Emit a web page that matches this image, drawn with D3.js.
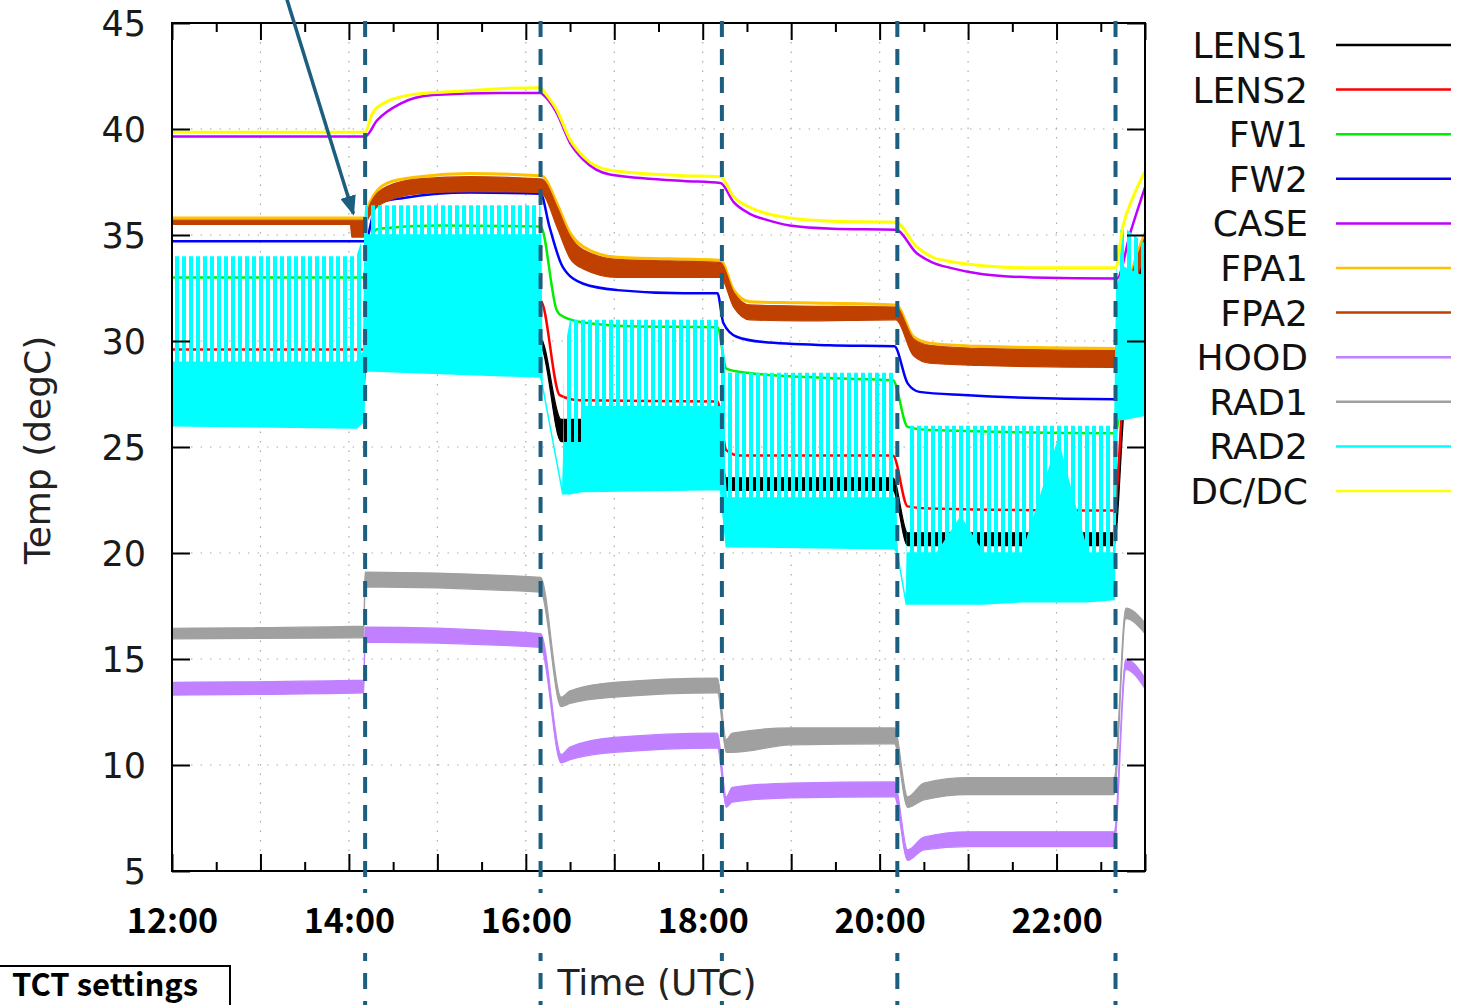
<!DOCTYPE html>
<html>
<head>
<meta charset="utf-8">
<style>
  html, body { margin: 0; padding: 0; background: #fff; }
  svg { display: block; }
</style>
</head>
<body>
<div id="chart"></div>
<script src="https://cdn.jsdelivr.net/npm/d3@7"></script>
<script>
const names  = ["LENS1", "LENS2", "FW1", "FW2", "CASE", "FPA1", "FPA2", "HOOD", "RAD1", "RAD2", "DC/DC"];
const colors = ["#000000", "#ff0000", "#00ee00", "#0000ff", "#c000ff", "#ffc000", "#c04000", "#c080ff", "#a0a0a0", "#00ffff", "#ffff00"];

const yTicks  = [5, 10, 15, 20, 25, 30, 35, 40, 45];
const xLabels = ["12:00", "14:00", "16:00", "18:00", "20:00", "22:00"];
const events  = ["14:11", "16:10", "18:13", "20:12", "22:40"];

// [time, degC]
const lens2 = [["12:00",29.6],["14:10",29.6],["14:30",31.3],["15:30",31.8],["16:10",31.9],
  ["16:23",27.45],["16:37",27.2],["18:10",27.15],["18:16",24.85],["18:25",24.6],["20:09",24.6],
  ["20:19",22.2],["20:34",22.1],["22:39",22.0],["22:46",28.5],["23:00",34.5]];
const fw1 = [["12:00",33.0],["14:10",33.0],["14:13",34.6],["14:20",35.3],["15:00",35.45],["16:10",35.4],
  ["16:21",31.45],["16:23",31.25],["16:37",30.9],["17:11",30.7],["18:10",30.65],
  ["18:16",28.7],["18:30",28.5],["19:26",28.25],["20:09",28.15],
  ["20:19",25.95],["20:34",25.8],["22:40",25.65],["22:47",30.0],["23:00",33.5]];
const fw2 = [["12:00",34.7],["14:11",34.7],["14:19",36.5],["14:37",36.75],["15:22",37.0],["16:10",36.95],
  ["16:16",35.4],["16:25",33.5],["16:39",32.7],["17:02",32.4],["17:47",32.25],["18:10",32.25],
  ["18:14",30.85],["18:23",30.2],["18:41",29.95],["19:26",29.8],["20:10",29.75],
  ["20:19",28.0],["20:27",27.6],["20:57",27.45],["22:40",27.25],["22:46",30.5],["23:00",34.3]];
const caseT = [["12:00",39.65],["14:11",39.65],["14:19",40.4],["14:35",41.2],["14:57",41.6],["15:42",41.7],["16:10",41.7],
  ["16:12",41.6],["16:21",40.75],["16:30",39.35],["16:39",38.55],["16:57",37.85],["17:47",37.55],["18:12",37.45],
  ["18:21",36.55],["18:32",36.0],["18:44",35.7],["18:59",35.45],["19:28",35.3],["20:11",35.25],
  ["20:25",34.15],["20:36",33.7],["20:48",33.45],["21:10",33.15],["21:44",33.0],["22:41",32.95],
  ["22:50",35.1],["23:00",37.25]];
const fpa1 = [["12:00",35.8],["14:11",35.8],["14:14",36.5],["14:26",37.45],["14:48",37.75],["15:22",37.9],["16:10",37.8],
  ["16:12",37.75],["16:21",36.5],["16:30",35.1],["16:39",34.45],["17:02",33.95],["18:12",33.8],
  ["18:21",32.4],["18:32",31.85],["19:06",31.8],["20:11",31.7],
  ["20:23",30.2],["20:34",29.9],["21:08",29.75],["22:40",29.65],["22:48",32.5],["23:00",35.1]];
const dcdc = [["12:00",39.85],["14:11",39.85],["14:16",40.75],["14:26",41.3],["14:46",41.65],["15:20",41.8],["15:42",41.9],["16:10",41.95],
  ["16:13",41.7],["16:21",40.9],["16:30",39.5],["16:39",38.7],["16:57",38.05],["17:47",37.8],["18:12",37.75],
  ["18:21",36.8],["18:32",36.3],["18:44",36.0],["18:59",35.8],["19:28",35.65],["20:11",35.6],
  ["20:25",34.45],["20:36",33.95],["20:48",33.75],["21:10",33.55],["21:44",33.45],["22:40",33.45],
  ["22:45",35.4],["22:52",36.8],["23:00",38.0]];

// [time, low, high] for the noisy channels
const lens1 = [["12:00",27.8,28.2],["14:10",27.8,28.2],["14:12",29.0,29.4],["14:30",29.5,30.0],["16:10",29.7,30.1],
  ["16:24",25.25,26.3],["16:38",25.25,26.3],["16:45",25.5,26.0],["18:10",25.5,26.0],
  ["18:16",22.95,23.55],["20:09",22.95,23.55],
  ["20:19",20.35,20.95],["22:39",20.35,20.95],["22:46",27.0,28.0],["23:00",33.5,34.3]];
const fpa2 = [["12:00",35.5,35.7],["14:01",35.5,35.7],["14:02",34.9,35.7],["14:10",34.9,35.7],["14:11",35.3,35.7],
  ["14:14",35.9,36.4],["14:26",36.6,37.3],["14:48",36.95,37.65],["15:22",37.05,37.75],["16:10",37.0,37.65],
  ["16:12",36.9,37.6],["16:21",35.4,36.35],["16:30",33.9,34.95],["16:39",33.4,34.3],["17:02",33.0,33.85],["18:12",33.0,33.7],
  ["18:21",31.6,32.3],["18:32",31.0,31.7],["19:06",30.95,31.65],["20:11",31.0,31.6],
  ["20:23",29.3,30.1],["20:34",28.95,29.8],["21:08",28.85,29.65],["22:40",28.75,29.55],
  ["22:48",31.6,32.4],["23:00",34.0,34.9]];
const hood = [["12:00",13.3,13.9],["14:10",13.4,14.0],["14:11",15.8,16.5],["16:10",15.55,16.2],
  ["16:24",10.1,10.5],["16:30",10.25,10.85],["17:00",10.6,11.3],["18:10",10.8,11.5],
  ["18:16",8.0,8.5],["18:20",8.25,8.95],["19:00",8.45,9.15],["20:10",8.5,9.2],
  ["20:19",5.5,6.0],["20:30",6.0,6.6],["21:00",6.15,6.85],["22:39",6.15,6.85],
  ["22:47",14.5,15.0],["23:00",13.6,14.1]];
const rad1 = [["12:00",15.95,16.45],["14:10",16.0,16.55],["14:11",18.4,19.1],["16:10",18.15,18.85],
  ["16:24",12.75,13.2],["16:30",12.9,13.5],["17:00",13.2,13.9],["18:10",13.4,14.1],
  ["18:16",10.6,11.2],["18:20",10.6,11.5],["19:00",10.95,11.75],["20:10",11.0,11.75],
  ["20:19",8.0,8.5],["20:30",8.35,9.15],["21:00",8.6,9.4],["22:39",8.6,9.4],
  ["22:47",16.9,17.4],["23:00",16.2,16.7]];

// RAD2: [time, bottom, top of dense part, top of spikes]
const rad2 = [["12:00",26.0,29.0,34.0],["14:05",25.9,29.0,34.0],["14:10",26.2,29.5,35.0],
  ["14:11",28.6,35.0,36.4],["16:10",28.3,35.0,36.4],
  ["16:11",28.0,28.0,28.0],["16:25",22.8,22.8,22.8],
  ["16:26",22.8,25.2,29.5],["16:30",22.8,25.2,31.0],["16:38",22.9,25.2,31.0],["16:40",22.9,26.9,31.0],["18:12",23.0,26.9,31.0],
  ["18:16",20.3,22.6,28.5],["20:10",20.2,22.6,28.5],
  ["20:12",20.0,20.0,20.0],["20:18",17.6,17.6,17.6],
  ["20:19",17.6,20.0,26.0],["20:39",17.6,20.0,26.0],["20:55",17.6,21.7,26.0],["21:10",17.6,20.0,26.0],
  ["21:37",17.7,20.0,26.0],["22:01",17.7,25.3,26.0],["22:21",17.7,20.0,26.0],["22:39",17.8,20.0,26.0],
  ["22:41",26.3,32.5,35.0],["22:45",26.3,33.5,35.4],["23:00",26.5,33.0,34.6]];

const arrowFrom = ["13:18", 46.1];
const arrowTo   = ["14:03", 36.0];

const parseT = d3.utcParse("%H:%M");
const fmtT = d3.utcFormat("%H:%M");

const x = d3.scaleUtc().domain([parseT("12:00"), parseT("23:00")]).range([172, 1145]);
const y = d3.scaleLinear().domain([5, 45]).range([871, 23]);

const hours = d3.utcHour.range(x.domain()[0], d3.utcMinute.offset(x.domain()[1], 1));
const halfHours = d3.utcMinute.every(30).range(x.domain()[0], x.domain()[1]).filter(d => d.getUTCMinutes() === 30);

const svg = d3.select('#chart').append('svg')
  .attr('width', 1460).attr('height', 1005)
  .style('font-family', '"DejaVu Sans", sans-serif');

const defs = svg.append('defs');
defs.append('pattern').attr('id', 'sparse').attr('patternUnits', 'userSpaceOnUse')
  .attr('width', 7).attr('height', 10)
  .append('rect').attr('width', 4).attr('height', 10).attr('fill', '#00ffff');
defs.append('clipPath').attr('id', 'plotclip').append('rect')
  .attr('x', x.range()[0]).attr('y', y(45))
  .attr('width', x.range()[1] - x.range()[0]).attr('height', y(5) - y(45));
defs.append('marker').attr('id', 'head')
  .attr('viewBox', '0 0 20 16').attr('refX', 18).attr('refY', 8)
  .attr('markerWidth', 20).attr('markerHeight', 16)
  .attr('markerUnits', 'userSpaceOnUse').attr('orient', 'auto')
  .append('path').attr('d', 'M0,0 L20,8 L0,16 z').attr('fill', '#1b5e7f');

// grid
const grid = svg.append('g')
  .attr('stroke', '#aaaaaa').attr('stroke-width', 1.2).attr('stroke-dasharray', '1.5,8');
grid.selectAll('.gx').data(hours.slice(1, -1)).join('line').attr('class', 'gx')
  .attr('x1', d => x(d)).attr('x2', d => x(d)).attr('y1', y(45)).attr('y2', y(5));
grid.selectAll('.gy').data(yTicks.slice(1, -1)).join('line').attr('class', 'gy')
  .attr('x1', x.range()[0]).attr('x2', x.range()[1]).attr('y1', d => y(d)).attr('y2', d => y(d));

// data
const plot = svg.append('g').attr('clip-path', 'url(#plotclip)');

const line = d3.line().x(d => x(parseT(d[0]))).y(d => y(d[1])).curve(d3.curveMonotoneX);
const band = d3.area().x(d => x(parseT(d[0]))).y0(d => y(d[1])).y1(d => y(d[2])).curve(d3.curveMonotoneX);

const drawLine = (data, i, w) => plot.append('path').attr('d', line(data))
  .attr('fill', 'none').attr('stroke', colors[i]).attr('stroke-width', w)
  .attr('stroke-linejoin', 'round');
const drawBand = (data, i) => plot.append('path').attr('d', band(data))
  .attr('fill', colors[i]).attr('stroke', colors[i]).attr('stroke-width', 1.2);

drawBand(lens1, 0);
drawLine(lens2, 1, 2.5);
drawLine(fw1, 2, 2.5);
drawLine(fw2, 3, 2.5);
drawLine(caseT, 4, 2.5);
drawLine(fpa1, 5, 3);
drawBand(fpa2, 6);
drawBand(hood, 7);
drawBand(rad1, 8);

const rad2Dense = d3.area().x(d => x(parseT(d[0]))).y0(d => y(d[1])).y1(d => y(d[2]));
const rad2Spikes = d3.area().x(d => x(parseT(d[0]))).y0(d => y(d[2])).y1(d => y(d[3]));
plot.append('path').attr('d', rad2Spikes(rad2)).attr('fill', 'url(#sparse)');
plot.append('path').attr('d', rad2Dense(rad2)).attr('fill', colors[9])
  .attr('stroke', colors[9]).attr('stroke-width', 1.5);

drawLine(dcdc, 10, 3);

// frame and ticks
const tickStyle = g => g.call(g => g.select('.domain').remove())
  .call(g => g.selectAll('.tick line').attr('stroke', '#000').attr('stroke-width', 2));

svg.append('g').attr('transform', `translate(0,${y(5)})`)
  .call(d3.axisBottom(x).tickValues(hours).tickSize(-17).tickFormat(''))
  .call(tickStyle);
svg.append('g').attr('transform', `translate(0,${y(5)})`)
  .call(d3.axisBottom(x).tickValues(halfHours).tickSize(-9).tickFormat(''))
  .call(tickStyle);
svg.append('g').attr('transform', `translate(0,${y(45)})`)
  .call(d3.axisTop(x).tickValues(hours).tickSize(-17).tickFormat(''))
  .call(tickStyle);
svg.append('g').attr('transform', `translate(0,${y(45)})`)
  .call(d3.axisTop(x).tickValues(halfHours).tickSize(-9).tickFormat(''))
  .call(tickStyle);

svg.append('g').attr('transform', `translate(${x.range()[0]},0)`)
  .call(d3.axisLeft(y).tickValues(yTicks).tickSize(-18).tickPadding(26))
  .call(tickStyle)
  .call(g => g.selectAll('.tick text')
    .attr('font-family', '"DejaVu Sans", sans-serif').attr('font-size', 35)
    .attr('fill', '#1a1a1a').attr('dy', '0.36em'));
svg.append('g').attr('transform', `translate(${x.range()[1]},0)`)
  .call(d3.axisRight(y).tickValues(yTicks).tickSize(-18).tickFormat(''))
  .call(tickStyle);

svg.append('rect')
  .attr('x', x.range()[0]).attr('y', y(45))
  .attr('width', x.range()[1] - x.range()[0]).attr('height', y(5) - y(45))
  .attr('fill', 'none').attr('stroke', '#000').attr('stroke-width', 2);

// setting changes
svg.append('g').selectAll('line').data(events).join('line')
  .attr('x1', d => x(parseT(d))).attr('x2', d => x(parseT(d)))
  .attr('y1', y(45) - 2).attr('y2', 1005)
  .attr('stroke', '#1b5e7f').attr('stroke-width', 4).attr('stroke-dasharray', '16,12');

svg.append('rect').attr('x', 120).attr('y', 893).attr('width', 1015).attr('height', 60).attr('fill', '#fff');

svg.append('g').attr('transform', `translate(0,${y(5)})`)
  .call(d3.axisBottom(x).tickValues(hours).tickSize(0)
    .tickFormat(d => xLabels.includes(fmtT(d)) ? fmtT(d) : ''))
  .call(g => g.select('.domain').remove())
  .call(g => g.selectAll('.tick text')
    .attr('y', 62).attr('dy', null)
    .attr('font-family', '"Noto Sans CJK JP", "Noto Sans", sans-serif')
    .attr('font-weight', 'bold').attr('font-size', 34).attr('fill', '#000'));

svg.append('text')
  .attr('x', 657).attr('y', 995)
  .attr('text-anchor', 'middle').attr('font-size', 36).attr('fill', '#222')
  .text('Time (UTC)');

svg.append('text')
  .attr('transform', 'translate(50,450) rotate(-90)')
  .attr('text-anchor', 'middle').attr('font-size', 36).attr('fill', '#222')
  .text('Temp (degC)');

// legend
const legend = svg.append('g').selectAll('g').data(names).join('g')
  .attr('transform', (d, i) => `translate(0,${45 + i * 44.6})`);
legend.append('text')
  .attr('x', 1308).attr('y', 13)
  .attr('text-anchor', 'end').attr('font-size', 36).attr('fill', '#111')
  .text(d => d);
legend.append('line')
  .attr('x1', 1336).attr('x2', 1451)
  .attr('stroke', (d, i) => colors[i]).attr('stroke-width', 2.5);

// arrow to the FPA notch
svg.append('line')
  .attr('x1', x(parseT(arrowFrom[0]))).attr('y1', y(arrowFrom[1]))
  .attr('x2', x(parseT(arrowTo[0]))).attr('y2', y(arrowTo[1]))
  .attr('stroke', '#1b5e7f').attr('stroke-width', 3.5)
  .attr('marker-end', 'url(#head)');

// note box
svg.append('rect')
  .attr('x', -2).attr('y', 966).attr('width', 232).attr('height', 60)
  .attr('fill', '#fff').attr('stroke', '#000').attr('stroke-width', 2);
svg.append('text')
  .attr('x', 12).attr('y', 996)
  .attr('font-family', '"Noto Sans CJK JP", "Noto Sans", sans-serif')
  .attr('font-weight', 'bold').attr('font-size', 31).attr('fill', '#000')
  .text('TCT settings');
</script>
</body>
</html>
